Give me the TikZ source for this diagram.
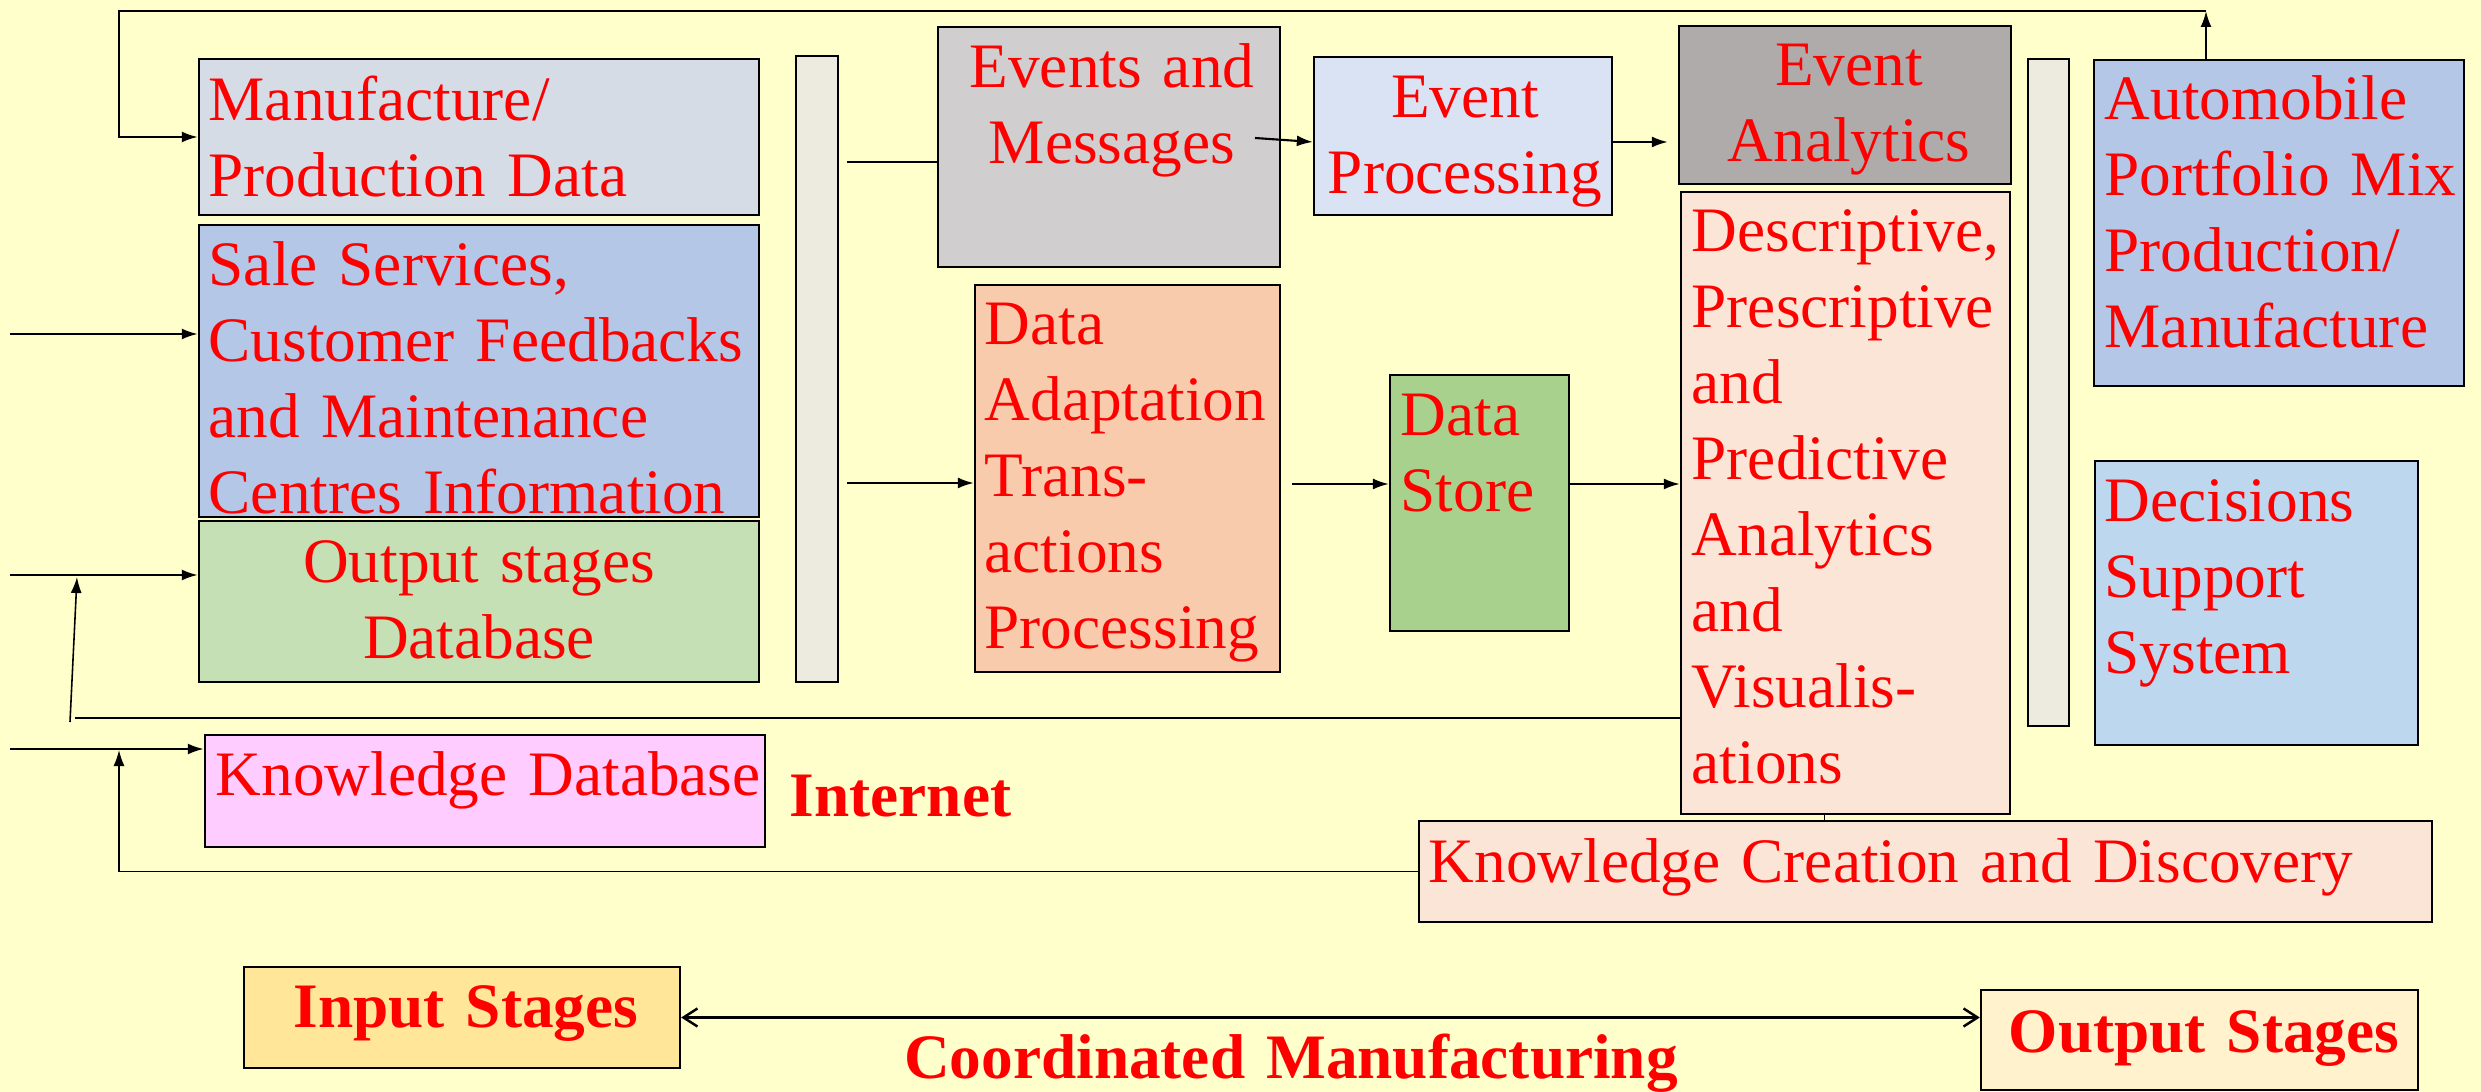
\documentclass[tikz,border=0pt]{standalone}
\usepackage{fontspec}
\setmainfont{Liberation Serif}
\usetikzlibrary{arrows.meta,calc}

\definecolor{slide}{HTML}{FFFFCC}
\definecolor{manugray}{HTML}{D6DCE5}
\definecolor{saleblue}{HTML}{B4C7E7}
\definecolor{dbgreen}{HTML}{C5E0B4}
\definecolor{kdbpink}{HTML}{FFCCFF}
\definecolor{evgray}{HTML}{D0CECE}
\definecolor{epblue}{HTML}{DAE3F3}
\definecolor{eagray}{HTML}{AFABAB}
\definecolor{daorange}{HTML}{F8CBAD}
\definecolor{dsgreen}{HTML}{A9D18E}
\definecolor{descpeach}{HTML}{FBE5D6}
\definecolor{barbeige}{HTML}{EDEBE0}
\definecolor{dssblue}{HTML}{BDD7EE}
\definecolor{ingold}{HTML}{FFE699}
\definecolor{outcream}{HTML}{FFF2CC}

\tikzset{
  box/.style={draw, line width=0.6pt, inner sep=0pt},
  lbl/.style={text=red, inner sep=0pt, text width=12cm, align=left, anchor=base west,
    font=\fontsize{18}{21.6}\selectfont},
  clbl/.style={lbl, align=center, anchor=base},
  bold/.style={font=\fontsize{18}{21.6}\selectfont\bfseries},
  arr/.style={line width=0.6pt, -{Latex[length=1.6mm,width=1.1mm]}},
  ln/.style={line width=0.6pt},
  thin ln/.style={line width=0.45pt},
}

\begin{document}
\begin{tikzpicture}[x=0.01cm,y=-0.01cm]
    \fill[slide] (0,0) rectangle (2481,1092);
    \useasboundingbox (0,0) rectangle (2481,1092);
    % input stages
    \node[box, fill=manugray, minimum width=5.6cm, minimum height=1.56cm] (manu) at (479,137) {};
    \node[box, fill=saleblue, minimum width=5.6cm, minimum height=2.92cm] (sale) at (479,371) {};
    \node[box, fill=dbgreen, minimum width=5.6cm, minimum height=1.61cm] (outdb) at (479,601.5) {};
    \node[box, fill=kdbpink, minimum width=5.6cm, minimum height=1.12cm] (kdb) at (485,791) {};
    \node[box, fill=barbeige, minimum width=0.42cm, minimum height=6.26cm] (bar1) at (817,369) {};
    \node[lbl] (manu-t) at (208,121) {Manufacture/\\Production Data};
    \node[lbl] (sale-t) at (208,286) {Sale Services,\\Customer Feedbacks\\and Maintenance\\Centres Information};
    \node[clbl] (outdb-t) at (479,583) {Output stages\\Database};
    \node[lbl] (kdb-t) at (215,796) {Knowledge Database};
    \node[lbl, bold] (net) at (789,817) {Internet};
    % processing
    \node[box, fill=evgray, minimum width=3.42cm, minimum height=2.4cm] (events) at (1109,147) {};
    \node[box, fill=daorange, minimum width=3.05cm, minimum height=3.87cm] (dataad) at (1127.5,478.5) {};
    \node[box, fill=epblue, minimum width=2.98cm, minimum height=1.58cm] (evproc) at (1463,136) {};
    \node[box, fill=dsgreen, minimum width=1.79cm, minimum height=2.56cm] (store) at (1479.5,503) {};
    \node[clbl] (events-t) at (1112,88) {Events and\\Messages};
    \node[lbl] (dataad-t) at (984,345) {Data\\Adaptation\\Trans-\\actions\\Processing};
    \node[clbl] (evproc-t) at (1465,118) {Event\\Processing};
    \node[lbl] (store-t) at (1400,436) {Data\\Store};
    % analytics
    \node[box, fill=eagray, minimum width=3.32cm, minimum height=1.58cm] (evan) at (1845,105) {};
    \node[box, fill=descpeach, minimum width=3.29cm, minimum height=6.22cm] (desc) at (1845.5,503) {};
    \node[box, fill=descpeach, minimum width=10.13cm, minimum height=1.01cm] (kcd) at (1925.5,871.5) {};
    \node[clbl] (evan-t) at (1849,86) {Event\\Analytics};
    \node[lbl] (desc-t) at (1691,252) {Descriptive,\\Prescriptive\\and\\Predictive\\Analytics\\and\\Visualis-\\ations};
    \node[lbl] (kcd-t) at (1428,883) {Knowledge Creation and Discovery};
    % output stages
    \node[box, fill=barbeige, minimum width=0.41cm, minimum height=6.67cm] (bar2) at (2048.5,392.5) {};
    \node[box, fill=saleblue, minimum width=3.7cm, minimum height=3.26cm] (auto) at (2279,223) {};
    \node[box, fill=dssblue, minimum width=3.23cm, minimum height=2.84cm] (decis) at (2256.5,603) {};
    \node[lbl] (auto-t) at (2104,120) {Automobile\\Portfolio Mix\\Production/\\Manufacture};
    \node[lbl] (decis-t) at (2104,522) {Decisions\\Support\\System};
    % bottom row
    \node[box, fill=ingold, minimum width=4.36cm, minimum height=1.01cm] (input) at (462,1017.5) {};
    \node[box, fill=outcream, minimum width=4.37cm, minimum height=1cm] (outst) at (2199.5,1040) {};
    \node[clbl, bold] (input-t) at (466,1028) {Input Stages};
    \node[clbl, bold] (outst-t) at (2204,1053) {Output Stages};
    \node[clbl, bold] (coord) at (1291,1079) {Coordinated Manufacturing};

    % feedback over the top
    \coordinate (fbtop) at (2206,11);
    \coordinate (fbleft) at (119,11);
    \draw[arr] (auto.north -| fbtop) -- (fbtop);
    \draw[arr] (fbtop) -- (fbleft) |- (manu.west);
    % inputs from the left
    \coordinate (inS) at (10,334);
    \coordinate (inO) at (10,575);
    \coordinate (inK) at (10,749);
    \draw[arr] (inS) -- (inS -| sale.west);
    \draw[arr] (inO) -- (inO -| outdb.west);
    \draw[arr] (inK) -- (inK -| kdb.west);
    % analytics back to the output database
    \coordinate (fbmid) at (75,718);
    \coordinate (upO) at (70,722);
    \coordinate (upOtip) at (77,577);
    \draw[thin ln] (fbmid -| desc.west) -- (fbmid);
    \draw[arr, thin ln] (upO) -- (upOtip);
    % knowledge back to the knowledge database
    \coordinate (kdbin) at (119,750);
    \draw[arr, thin ln] (kcd.west) -| (kdbin);
    % through the first bar
    \coordinate (b1top) at (847,162);
    \coordinate (b1low) at (847,483);
    \draw[ln] (b1top) -- (b1top -| events.west);
    \draw[arr] (b1low) -- (b1low -| dataad.west);
    % events
    \coordinate (evmsg) at (1255,138);
    \draw[arr] (evmsg) -- ($(evproc.west)+(0,6)$);
    \draw[arr] ($(evproc.east)+(0,6)$) -- ($(evproc.east -| evan.west)+(-10,6)$);
    % data
    \coordinate (dsline) at (1292,484);
    \draw[arr] (dsline) -- (dsline -| store.west);
    \draw[arr] (store.east |- dsline) -- (dsline -| desc.west);
    \draw[thin ln] ($(desc.south)+(-21,0)$) -- ($(desc.south |- kcd.north)+(-21,0)$);
    % coordinated manufacturing
    \draw[line width=0.7pt, {Straight Barb[length=1.4mm,width=1.8mm]}-{Straight Barb[length=1.4mm,width=1.8mm]}]
      (input.east) -- (input.east -| outst.west);
\end{tikzpicture}
\end{document}
